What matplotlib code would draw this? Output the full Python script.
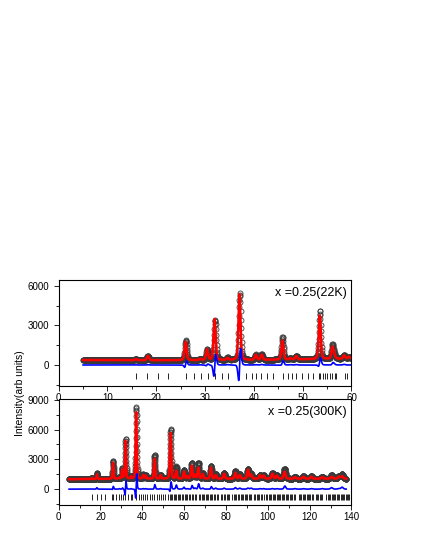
import numpy as np
import matplotlib
matplotlib.use("Agg")
import matplotlib.pyplot as plt
from matplotlib.ticker import MultipleLocator

plt.rcParams['font.family'] = ['Liberation Sans', 'DejaVu Sans']

# ---------------- data ----------------
# 22 K panel
bg22_x = [5, 20, 40, 60]
bg22_y = [380, 360, 380, 480]
pk22_pos  = [15.8, 18.3, 26.0, 29.0, 30.4, 31.95, 34.6, 37.05, 40.4, 41.6, 45.85, 47.5, 48.7, 53.5, 56.1, 56.5, 58.5, 59.5]
pk22_calc = [80, 330, 1400, 80, 800, 3100, 150, 5000, 380, 380, 1450, 80, 250, 3300, 900, 200, 250, 150]
pk22_obs  = [90, 350, 1500, 100, 820, 3050, 180, 5050, 400, 420, 1700, 100, 280, 3650, 1050, 250, 300, 150]
pk22_shift = [0, 0, 0.06, 0, 0.03, 0.1, 0, 0.09, 0, 0, 0.03, 0, 0, 0.03, 0.02, 0, 0, 0]
bragg22 = [15.8, 18.2, 20.4, 22.5, 26.0, 27.7, 29.2, 30.6, 32.0, 33.4, 34.7, 36.9, 38.4, 39.7,
           40.5, 41.5, 42.6, 44.0, 45.9, 47.0, 47.9, 48.7, 49.9, 51.1, 52.2, 53.3, 53.6, 54.1,
           54.5, 55.0, 55.6, 56.0, 56.6, 56.9, 58.6, 59.0]

# 300 K panel
bg300_x = [5, 30, 60, 100, 137.5]
bg300_y = [1000, 1050, 1050, 1050, 1050]
pk300_pos  = [15.8, 18.3, 26.0, 29.0, 30.4, 31.95, 34.6, 37.05, 40.4, 41.6, 45.85, 48.7, 53.5, 56.2,
              59.9, 61.5, 63.6, 65.2, 66.8, 68.9, 72.8, 75.1, 79.1, 84.5, 86.6, 90.5, 92.0, 96.3,
              98.0, 102.2, 104.3, 108.0, 113.0, 117.0, 120.8, 126.0, 130.5, 134.0, 135.5]
pk300_calc = [80, 450, 1600, 100, 900, 3800, 200, 6700, 350, 300, 2000, 350, 4600, 800,
              700, 250, 1300, 400, 1100, 450, 1100, 350, 500, 600, 350, 900, 400, 350,
              300, 500, 300, 700, 150, 200, 200, 150, 200, 200, 250]
pk300_obs  = [100, 600, 1800, 150, 1000, 4000, 250, 7200, 400, 350, 2400, 400, 5000, 1200,
              900, 300, 1600, 500, 1600, 550, 1300, 450, 600, 750, 450, 1000, 500, 400,
              350, 550, 350, 1000, 200, 250, 250, 200, 350, 250, 450]
pk300_shift = [0, 0, 0.03, 0, 0.02, 0.08, 0, 0.08, 0, 0, 0.03, 0, 0.05, 0.03,
               0, 0, 0.05, 0, 0.05, 0, 0.05, 0, 0, 0, 0, 0, 0, 0,
               0, 0, 0, 0.05, 0, 0, 0, 0, 0, 0, 0]
bragg300 = [15.8, 18.2, 20.2, 22.3, 25.6, 26.0, 27.5, 28.9, 29.6, 30.6, 31.8, 33.2, 34.5, 35.2,
            36.8, 38.2, 39.4, 40.3, 41.3, 42.4, 43.6, 44.6, 45.8, 47.0, 47.8, 48.7, 49.8, 51.0,
            52.1, 53.2, 53.7, 54.2, 55.0, 55.6, 56.3, 56.9, 57.6, 58.2, 58.8, 59.5,
            60.2, 61.0, 61.6, 62.3, 63.0, 63.6, 64.3, 65.0, 65.5, 67.0, 67.6, 68.3, 69.0, 69.6,
            70.3, 71.0, 71.5, 72.2, 72.9, 73.5, 74.2, 74.9, 75.6, 76.2, 77.5, 78.3, 79.0, 79.6,
            80.3, 81.0, 81.6, 83.0, 83.7, 84.4, 85.0, 85.7, 86.3, 87.0, 87.6, 88.2, 88.9, 89.5,
            90.2, 90.8, 91.5, 92.1, 93.5, 94.1, 94.8, 95.4, 96.0, 96.7, 97.3, 98.0, 99.2, 99.8,
            100.4, 101.0, 101.7, 102.3, 102.9, 103.5, 104.2, 104.8, 105.4, 106.0, 106.7, 107.3,
            107.9, 108.5, 109.2, 109.8, 110.4, 111.0, 111.6, 112.3, 112.9, 114.8, 115.4, 116.0,
            116.7, 117.3, 117.9, 118.5, 119.1, 119.8, 120.4, 121.0, 121.6, 123.0, 123.6, 124.2,
            124.9, 125.5, 126.1, 128.0, 128.6, 129.2, 129.8, 130.5, 131.1, 131.7, 132.3, 132.9,
            133.5, 134.2, 134.8, 135.4, 136.0, 136.6, 137.2, 137.8, 138.4, 139.0, 139.6]

labels = ["x =0.25(22K)", "x =0.25(300K)"]


def profile(x, bgx, bgy, pos, hts, shifts, wbase, wslope, use_shift):
    y = np.interp(x, bgx, bgy).astype(float)
    for p, h, s in zip(pos, hts, shifts):
        c = p + (s if use_shift else 0.0)
        w = wbase + wslope * p
        g = np.exp(-4 * np.log(2) * ((x - c) / w) ** 2)
        lz = 1.0 / (1 + 4 * ((x - c) / w) ** 2)
        y += h * (0.7 * g + 0.3 * lz)
    return y


fig = plt.figure(figsize=(4.25, 5.5), dpi=100)
ax1 = fig.add_axes([0.138, 0.298, 0.689, 0.193])
ax2 = fig.add_axes([0.138, 0.0818, 0.689, 0.193])

panels = [
    (ax1, np.arange(5, 60.001, 0.05), bg22_x, bg22_y, pk22_pos, pk22_calc, pk22_obs, pk22_shift,
     bragg22, (0, 60), (-1600, 6450), 10, 5, 0.5, 0.0),
    (ax2, np.arange(5, 137.5, 0.05), bg300_x, bg300_y, pk300_pos, pk300_calc, pk300_obs, pk300_shift,
     bragg300, (0, 140), (-1600, 9100), 20, 10, 0.4, 0.006),
]

for i, (ax, x, bgx, bgy, pos, hc, ho, sh, br, xl, yl, xmaj, xmin, wb, ws) in enumerate(panels):
    calc = profile(x, bgx, bgy, pos, hc, sh, wb, ws, False)
    obs = profile(x, bgx, bgy, pos, ho, sh, wb, ws, True)
    diff = obs - calc
    ax.plot(x, obs, 'o', ms=3.6, mfc='none', mec='#3a3a3a', mew=0.6, zorder=2)
    ax.plot(x, calc, '-', color='#ff0000', lw=1.8, zorder=3)
    ax.plot(x, diff, '-', color='#0000ff', lw=1.2, zorder=3)
    ax.plot(br, [-830] * len(br), '|', color='#222222', ms=4.5, mew=0.7, zorder=2)
    ax.set_xlim(*xl)
    ax.set_ylim(*yl)
    ax.xaxis.set_major_locator(MultipleLocator(xmaj))
    ax.xaxis.set_minor_locator(MultipleLocator(xmin))
    ax.yaxis.set_major_locator(MultipleLocator(3000))
    ax.yaxis.set_minor_locator(MultipleLocator(1500))
    ax.tick_params(which='both', direction='out', labelsize=7, width=0.6)
    ax.tick_params(which='major', length=3.5)
    ax.tick_params(which='minor', length=2)
    ax.tick_params(axis='x', pad=1.5)
    for s in ax.spines.values():
        s.set_linewidth(0.8)
    ax.text(0.985, 0.88, labels[i], transform=ax.transAxes, ha='right', va='center', fontsize=9)

fig.text(0.047, 0.285, "Intensity(arb units)", rotation=90, ha='center', va='center', fontsize=7.5)

fig.savefig("out.png", dpi=100)
